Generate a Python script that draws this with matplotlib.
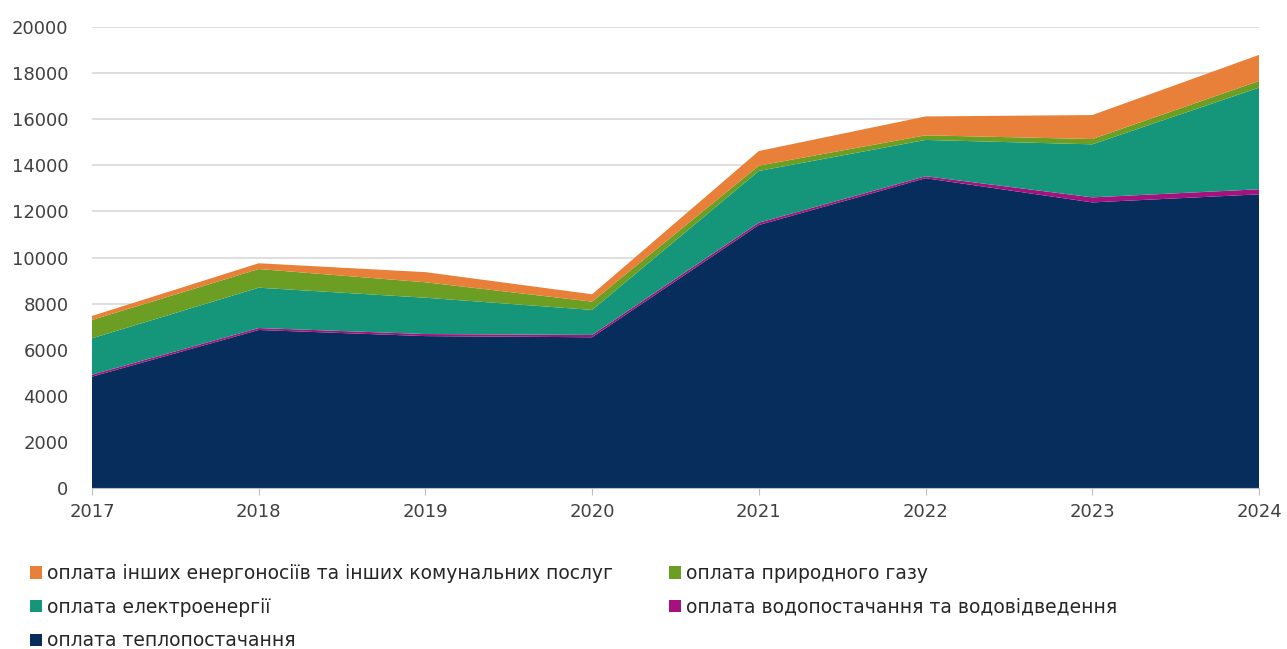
import matplotlib
matplotlib.use("Agg")
import matplotlib.pyplot as plt
import numpy as np
from matplotlib.patches import Patch

years = [2017, 2018, 2019, 2020, 2021, 2022, 2023, 2024]
heat = [4830, 6855, 6590, 6540, 11410, 13440, 12390, 12740]
water = [85, 85, 90, 100, 100, 85, 220, 220]
electricity = [1580, 1750, 1575, 1085, 2245, 1575, 2300, 4410]
gas = [795, 810, 670, 360, 230, 200, 230, 290]
other = [175, 250, 440, 320, 635, 820, 1040, 1130]

labels = {
    "heat": "оплата теплопостачання",
    "water": "оплата водопостачання та водовідведення",
    "elec": "оплата електроенергії",
    "gas": "оплата природного газу",
    "other": "оплата інших енергоносіїв та інших комунальних послуг",
}
colors = {
    "heat": "#062d5c",
    "water": "#a5117f",
    "elec": "#15967b",
    "gas": "#6b9e22",
    "other": "#e8803a",
}

plt.rcParams['font.family'] = ['DejaVu Sans']

fig = plt.figure(figsize=(12.87, 6.49), dpi=100)
ax = fig.add_axes([92/1287, 1-488/649, (1259-92)/1287, (488-27)/649])

ax.stackplot(years, heat, water, electricity, gas, other,
             colors=[colors["heat"], colors["water"], colors["elec"], colors["gas"], colors["other"]],
             linewidth=0)

ax.set_xlim(2017, 2024)
ax.set_ylim(0, 20000)
ax.set_yticks(np.arange(0, 20001, 2000))
ax.set_xticks(years)
ax.yaxis.grid(True, color="#d9d9d9", linewidth=1.2)
ax.set_axisbelow(True)
for s in ["left", "right", "top"]:
    ax.spines[s].set_visible(False)
ax.spines["bottom"].set_color("#bfbfbf")
ax.tick_params(axis="y", length=0, labelsize=13, labelcolor="#404040", pad=17)
ax.tick_params(axis="x", length=5, color="#bfbfbf", labelsize=13, labelcolor="#404040", pad=6)

order = ["other", "elec", "heat", "gas", "water"]
handles = [Patch(facecolor=colors[k], edgecolor="none") for k in order]
fig.legend(handles, [labels[k] for k in order], ncol=2, loc="upper left",
           bbox_to_anchor=(17/1287, 1-551/649), frameon=False, fontsize=13.5,
           handlelength=0.65, handleheight=0.65, handletextpad=0.25,
           columnspacing=3.0, labelspacing=0.78, labelcolor="#262626",
           borderpad=0.2)

fig.savefig("out.png", dpi=100)
